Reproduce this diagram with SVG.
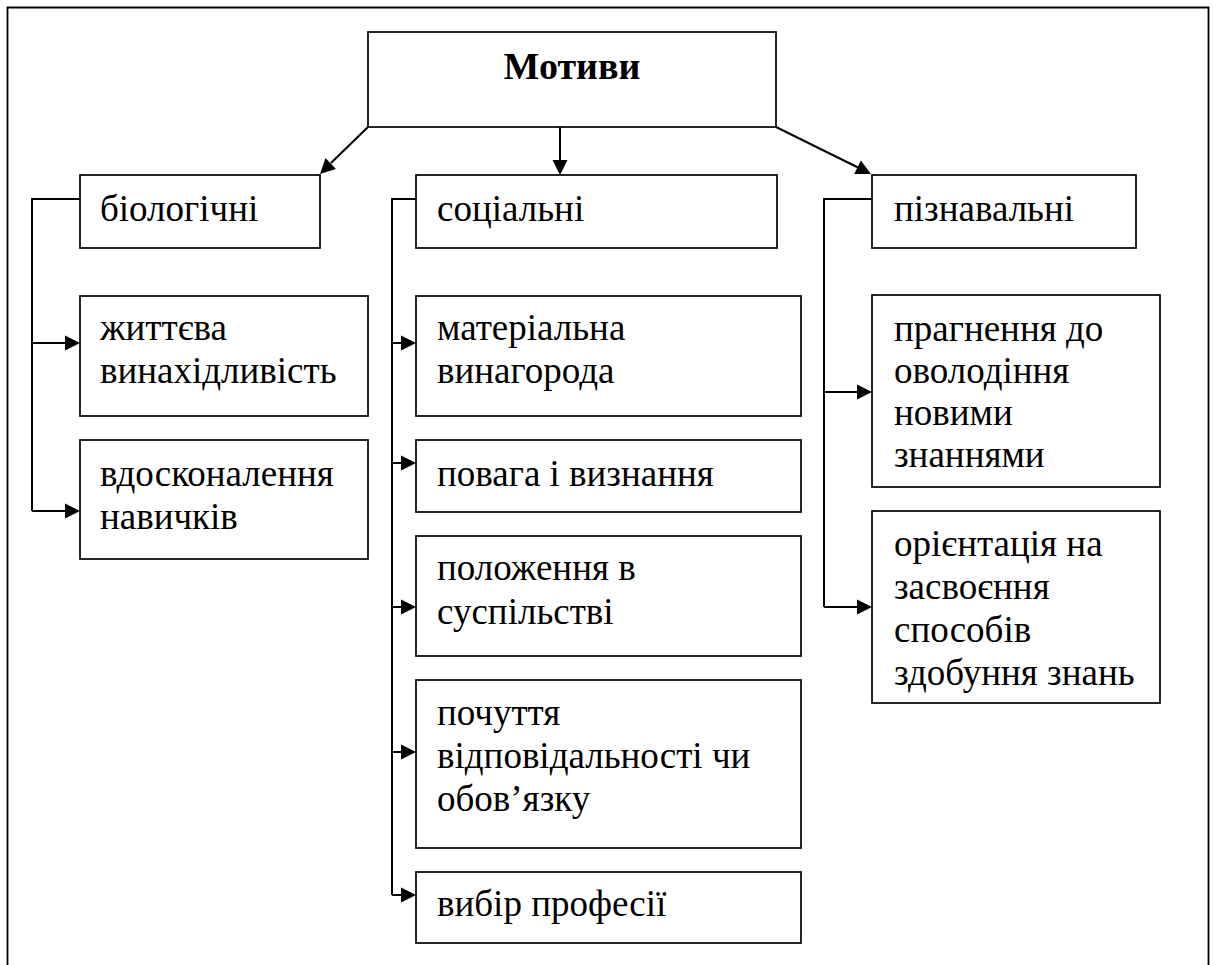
<svg xmlns="http://www.w3.org/2000/svg" width="1213" height="965" viewBox="0 0 1213 965">
<style>
.box{fill:#fff;stroke:#000;stroke-width:1.7}
.t{font-family:'Liberation Serif',serif;font-size:37px;fill:#000}
.h{font-family:'Liberation Serif',serif;font-size:38px;font-weight:bold;fill:#000}
.ln{fill:none;stroke:#000;stroke-width:2}
.ah{fill:#000;stroke:none}
.frame{fill:none;stroke:#000;stroke-width:1.8}
</style>
<rect x="0" y="0" width="1213" height="965" fill="#fff"/>
<path class="frame" d="M7.5,975 V7.5 H1208.5 V975"/>

<g id="connectors">
<path class="ln" d="M368,127 L331,163"/>
<path class="ln" d="M560,127 V161"/>
<path class="ln" d="M776,127 L858,167.5"/>
<path class="ln" d="M80,199 H32 V511"/>
<path class="ln" d="M32,343 H66"/>
<path class="ln" d="M32,511 H66"/>
<path class="ln" d="M416,199 H392 V895"/>
<path class="ln" d="M392,343 H402"/>
<path class="ln" d="M392,463 H402"/>
<path class="ln" d="M392,607 H402"/>
<path class="ln" d="M392,752 H402"/>
<path class="ln" d="M392,895 H402"/>
<path class="ln" d="M872,199 H824 V607"/>
<path class="ln" d="M824,392 H858"/>
<path class="ln" d="M824,607 H858"/>
<polygon class="ah" points="320,174 335.9,168.9 325.5,158.1"/>
<polygon class="ah" points="560,175 552.5,160 567.5,160"/>
<polygon class="ah" points="871,174 854.2,174.1 860.9,160.6"/>
<polygon class="ah" points="80,343 65,335.5 65,350.5"/>
<polygon class="ah" points="80,511 65,503.5 65,518.5"/>
<polygon class="ah" points="416,343 401,335.5 401,350.5"/>
<polygon class="ah" points="416,463 401,455.5 401,470.5"/>
<polygon class="ah" points="416,607 401,599.5 401,614.5"/>
<polygon class="ah" points="416,752 401,744.5 401,759.5"/>
<polygon class="ah" points="416,895 401,887.5 401,902.5"/>
<polygon class="ah" points="872,392 857,384.5 857,399.5"/>
<polygon class="ah" points="872,607 857,599.5 857,614.5"/>
</g>

<g id="motyvy">
<rect class="box" x="368" y="32" width="408" height="95"/>
<text class="h" x="572" y="79" text-anchor="middle">Мотиви</text>
</g>

<g id="biologichni">
<rect class="box" x="80" y="175" width="240" height="73"/>
<text class="t" x="100" y="221">біологічні</text>
</g>
<g id="zhyttieva">
<rect class="box" x="80" y="296" width="288" height="120"/>
<text class="t" x="100" y="340">життєва</text>
<text class="t" x="100" y="383">винахідливість</text>
</g>
<g id="vdoskonalennia">
<rect class="box" x="80" y="440" width="288" height="119"/>
<text class="t" x="100" y="486">вдосконалення</text>
<text class="t" x="100" y="529">навичків</text>
</g>
<g id="sotsialni">
<rect class="box" x="416" y="175" width="361" height="73"/>
<text class="t" x="437" y="221">соціальні</text>
</g>
<g id="materialna">
<rect class="box" x="416" y="296" width="385" height="120"/>
<text class="t" x="437" y="340">матеріальна</text>
<text class="t" x="437" y="383">винагорода</text>
</g>
<g id="povaha">
<rect class="box" x="416" y="440" width="385" height="72"/>
<text class="t" x="437" y="486">повага і визнання</text>
</g>
<g id="polozhennia">
<rect class="box" x="416" y="536" width="385" height="120"/>
<text class="t" x="437" y="580">положення в</text>
<text class="t" x="437" y="624">суспільстві</text>
</g>
<g id="pochuttia">
<rect class="box" x="416" y="680" width="385" height="168"/>
<text class="t" x="437" y="725">почуття</text>
<text class="t" x="437" y="768">відповідальності чи</text>
<text class="t" x="437" y="811">обов’язку</text>
</g>
<g id="vybir">
<rect class="box" x="416" y="872" width="385" height="71"/>
<text class="t" x="437" y="916">вибір професії</text>
</g>
<g id="piznavalni">
<rect class="box" x="872" y="175" width="264" height="73"/>
<text class="t" x="894" y="221">пізнавальні</text>
</g>
<g id="prahnennia">
<rect class="box" x="872" y="295" width="288" height="192"/>
<text class="t" x="894" y="341">прагнення до</text>
<text class="t" x="894" y="383">оволодіння</text>
<text class="t" x="894" y="425">новими</text>
<text class="t" x="894" y="467">знаннями</text>
</g>
<g id="oriientatsiia">
<rect class="box" x="872" y="511" width="288" height="192"/>
<text class="t" x="894" y="556">орієнтація на</text>
<text class="t" x="894" y="599">засвоєння</text>
<text class="t" x="894" y="642">способів</text>
<text class="t" x="894" y="685">здобуння знань</text>
</g>
</svg>
